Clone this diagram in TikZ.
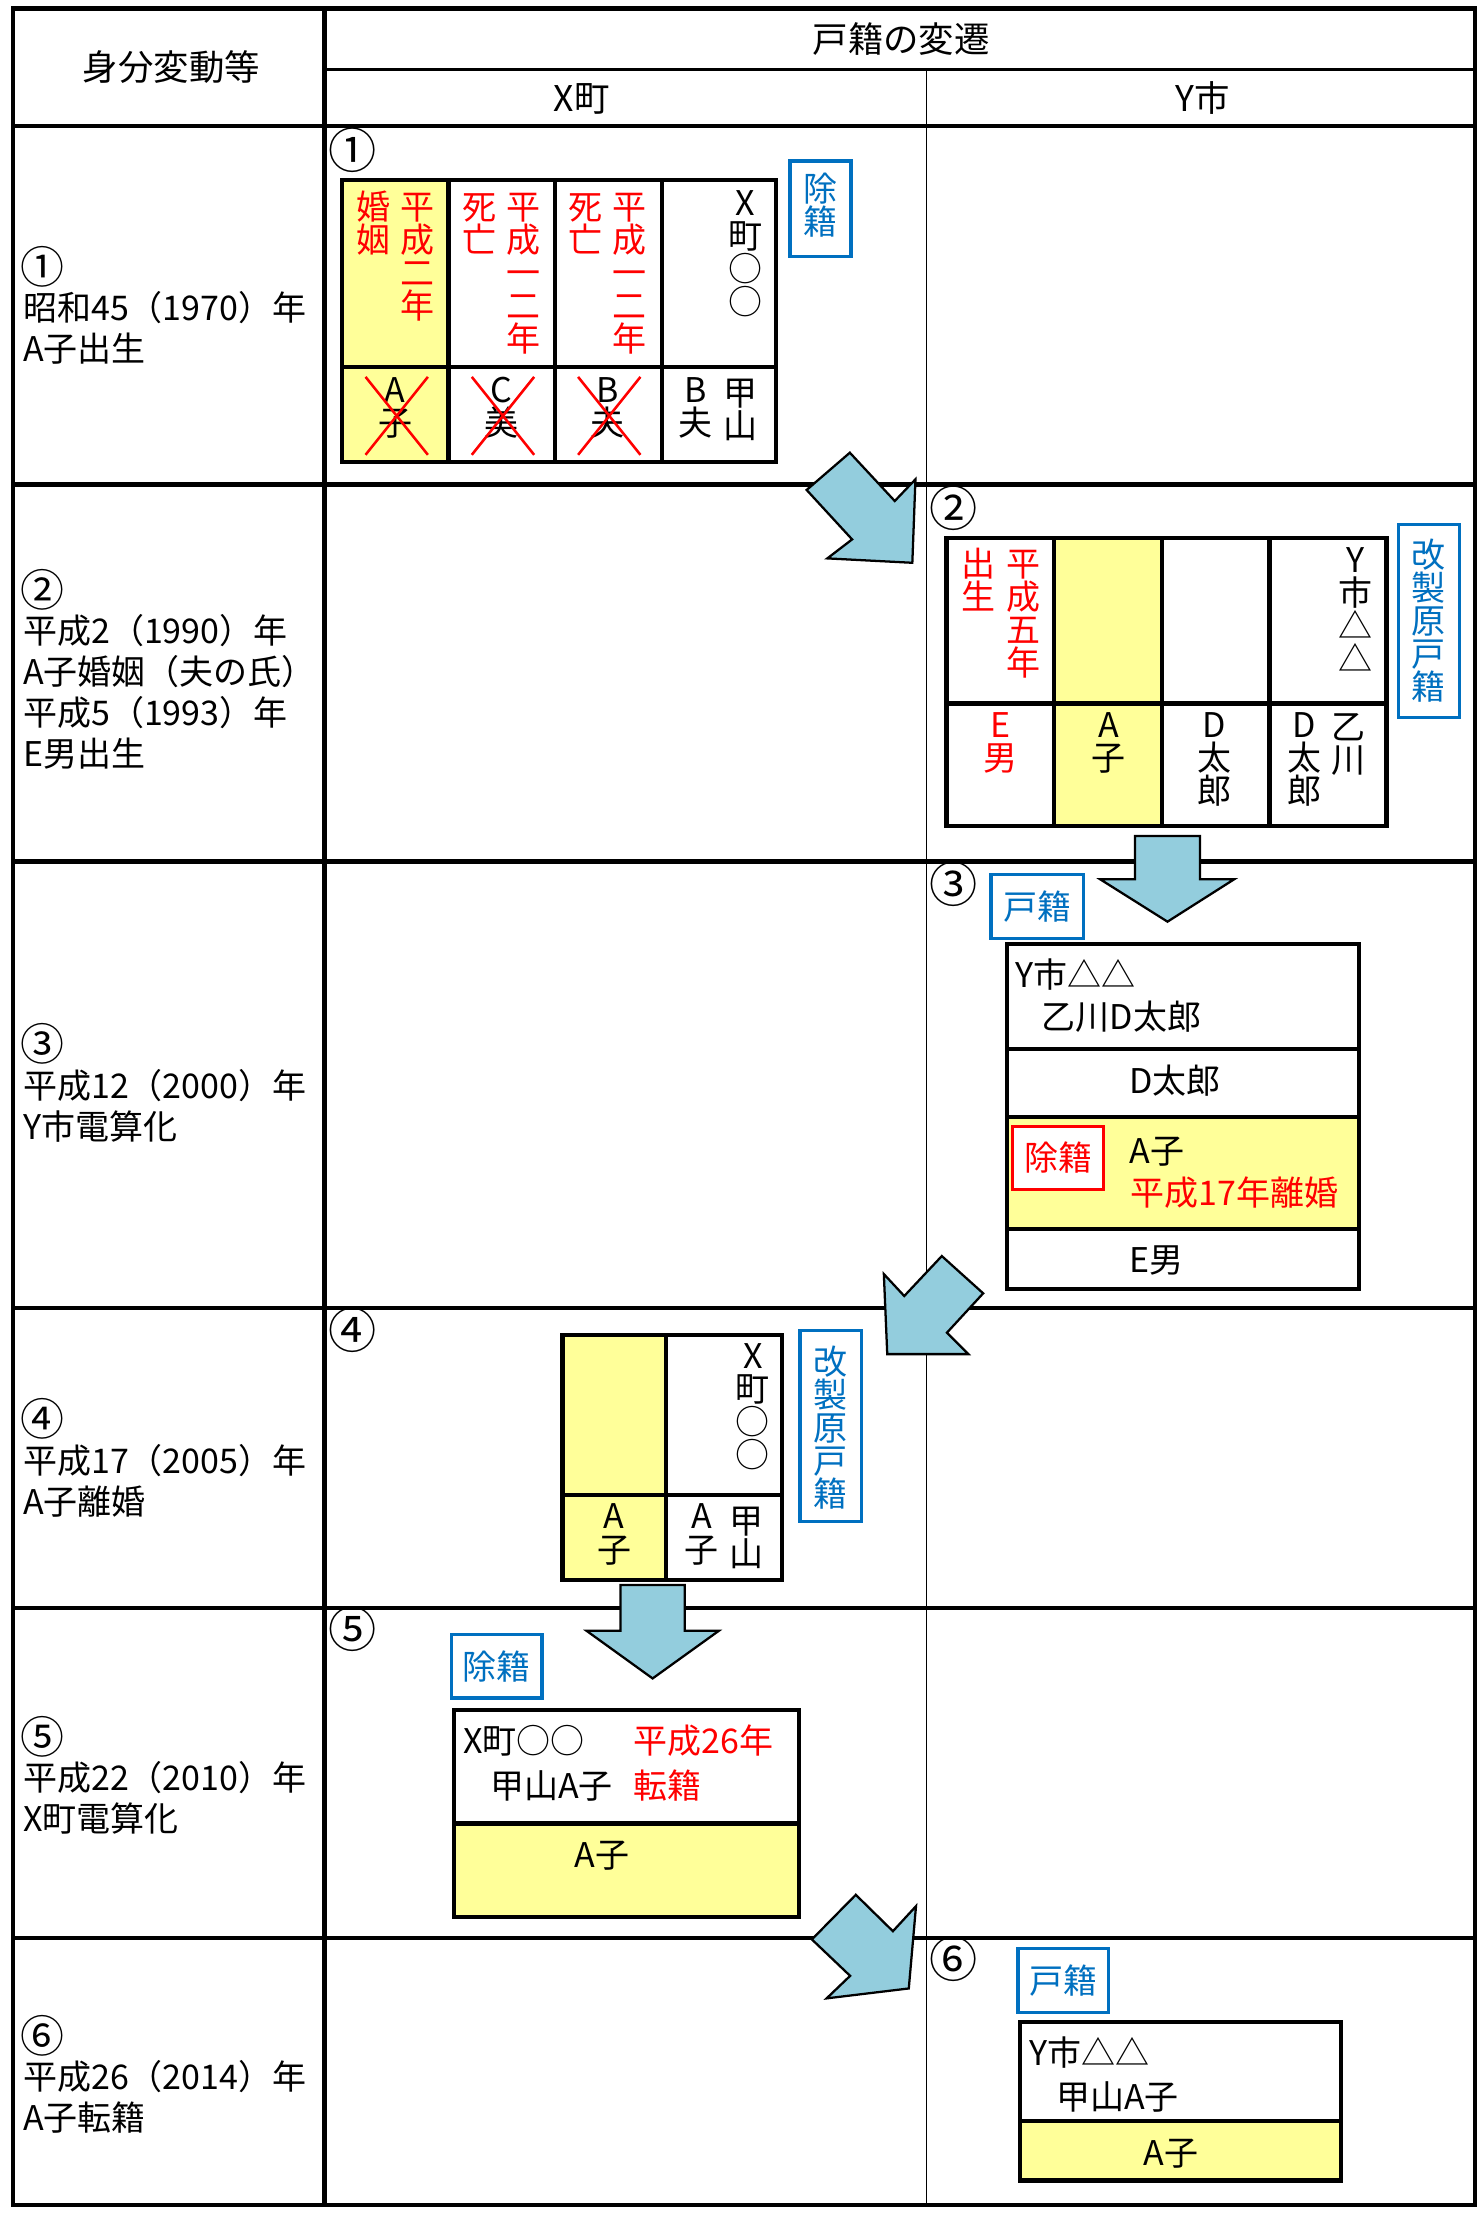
\documentclass[tikz,border=0pt]{standalone}
\usepackage{fontspec}
\setmainfont{Noto Sans CJK JP}
\definecolor{kyel}{RGB}{255,255,153}
\definecolor{kblu}{RGB}{0,112,192}
\definecolor{karr}{RGB}{147,205,221}
\definecolor{kred}{RGB}{255,0,0}
\tikzset{
  tline/.style={line width=1.5pt},
  hline/.style={line width=1.2pt},
  thinline/.style={line width=0.45pt},
  boxline/.style={line width=1.5pt},
  bluebox/.style={draw=kblu, line width=1.2pt, fill=white, inner sep=0pt},
  redbox/.style={draw=kred, line width=1.2pt, fill=white, inner sep=0pt},
  tx/.style={inner sep=0pt, text height=10.56pt, text depth=1.44pt, font=\fontsize{12pt}{14pt}\selectfont},
  hd/.style={inner sep=0pt, text height=11pt, text depth=1.5pt, font=\fontsize{12.5pt}{15pt}\selectfont},
  clab/.style={inner sep=0pt, text height=14.96pt, text depth=2.04pt, font=\fontsize{17pt}{19pt}\selectfont},
  lclab/.style={inner sep=0pt, anchor=west, text height=13.64pt, text depth=1.86pt, font=\fontsize{15.5pt}{17pt}\selectfont},
  blockarrow/.style={draw=black, line width=0.8pt, fill=karr, line join=miter},
  crossline/.style={draw=kred, line width=0.9pt},
}
\newcommand\vcol[5][]{\foreach \kch [count=\i] in {#5}{\node[tx,#1] (#2-\i) at (#3,{#4+(\i-1)*23.3}) {\kch};}}
% left column: name, y of circled number, circled number, lines
\newcommand\lcol[4]{\node[lclab] (#1-0) at (14,#2) {#3};
  \foreach \kln [count=\i] in {#4}{\node[tx,anchor=west] (#1-\i) at (16,{#2+\i*29}) {\kln};}}
\begin{document}
\begin{tikzpicture}[x=0.5pt,y=-0.5pt]
\useasboundingbox[fill=white] (0,0) rectangle (1046,1562.6);
% yellow areas
\fill[kyel] (241.5,127) rectangle (316.5,326);
\fill[kyel] (744,379.5) rectangle (820,583);
\fill[kyel] (710.5,788.5) rectangle (959,867.5);
\fill[kyel] (397,942) rectangle (470,1115);
\fill[kyel] (320.5,1287) rectangle (564,1353);
\fill[kyel] (720,1497) rectangle (946.5,1539);
% table
\draw[tline] (9,6) rectangle (1041,1556);
\draw[tline] (229,6) -- (229,1556);
\draw[hline] (229,49) -- (1041,49);
\draw[thinline] (654,49) -- (654,1556);
\foreach \yy in {89,342,608,923,1135,1368} \draw[tline] (9,\yy) -- (1041,\yy);
% headers
\node[hd] (h1) at (121,47.5) {身分変動等};
\node[hd] (h2) at (636,27.5) {戸籍の変遷};
\node[hd] (h3) at (410.5,69) {X町};
\node[hd] (h4) at (849,69) {Y市};
% left column
\lcol{r1}{188}{①}{昭和45（1970）年,A子出生}
\lcol{r2}{416}{②}{平成2（1990）年,A子婚姻（夫の氏）,平成5（1993）年,E男出生}
\lcol{r3}{737}{③}{平成12（2000）年,Y市電算化}
\lcol{r4}{1001.5}{④}{平成17（2005）年,A子離婚}
\lcol{r5}{1225.5}{⑤}{平成22（2010）年,X町電算化}
\lcol{r6}{1436.5}{⑥}{平成26（2014）年,A子転籍}
% ---- row 1
\node[clab] (c1) at (249,106) {①};
\draw[boxline] (241.5,127) rectangle (547.5,326);
\draw[boxline] (241.5,259) -- (547.5,259);
\foreach \xx in {316.5,391.5,467} \draw[boxline] (\xx,127) -- (\xx,326);
\vcol[text=kred]{b1a}{294.6}{146}{平,成,二,年}
\vcol[text=kred]{b1b}{263.4}{146}{婚,姻}
\vcol[text=kred]{b1c}{369.5}{146}{平,成,一,二,年}
\vcol[text=kred]{b1d}{338.3}{146}{死,亡}
\vcol[text=kred]{b1e}{444.5}{146}{平,成,一,二,年}
\vcol[text=kred]{b1f}{413.3}{146}{死,亡}
\vcol{b1g}{526}{143}{X,町,○,○}
\vcol{b1h}{279}{275}{A,子}
\vcol{b1i}{354}{275}{C,美}
\vcol{b1j}{429}{275}{B,夫}
\vcol{b1k}{522.7}{277}{甲,山}
\vcol{b1l}{491}{275}{B,夫}
\foreach \xx in {258,333,408} {\draw[crossline] (\xx,266) -- ({\xx+44},321); \draw[crossline] ({\xx+44},266) -- (\xx,321);}
\node[bluebox, minimum width=21.5pt, minimum height=33.75pt] (jo1) at (579,147.25) {};
\vcol[text=kblu]{jo1t}{579}{133}{除,籍}
% ---- row 2
\node[clab] (c2) at (673,359) {②};
\draw[boxline] (668,379.5) rectangle (978.5,583);
\draw[boxline] (668,496.5) -- (978.5,496.5);
\foreach \xx in {744,820,896} \draw[boxline] (\xx,379.5) -- (\xx,583);
\vcol[text=kred]{b2a}{722.6}{397.6}{平,成,五,年}
\vcol[text=kred]{b2b}{690.6}{397.6}{出,生}
\vcol{b2c}{956.4}{394.6}{Y,市,△,△}
\vcol[text=kred]{b2d}{706}{511.7}{E,男}
\vcol{b2e}{782.3}{511.7}{A,子}
\vcol{b2f}{857}{511.7}{D,太,郎}
\vcol{b2g}{951.8}{512.7}{乙,川}
\vcol{b2h}{920.7}{511.7}{D,太,郎}
\node[bluebox, minimum width=21.5pt, minimum height=68.25pt] (kai1) at (1008.5,438.25) {};
\vcol[text=kblu]{kai1t}{1008.5}{391.5}{改,製,原,戸,籍}
% ---- row 3
\node[clab] (c3) at (673,624) {③};
\node[bluebox, tx, text=kblu, minimum width=32.5pt, minimum height=22.75pt] (ko1) at (732,639.75) {戸籍};
\draw[boxline] (710.5,666) rectangle (959,910);
\foreach \yy in {740.5,788.5,867.5} \draw[boxline] (710.5,\yy) -- (959,\yy);
\node[tx, anchor=west] (t3a) at (716,687.6) {Y市△△};
\node[tx, anchor=west] (t3b) at (735,717.6) {乙川D太郎};
\node[tx] (t3c) at (829.4,762.3) {D太郎};
\node[redbox, tx, text=kred, minimum width=32.25pt, minimum height=22.25pt] (jo2) at (746.75,817.25) {除籍};
\node[tx, anchor=west] (t3d) at (797,811.7) {A子};
\node[tx, anchor=west, text=kred] (t3e) at (797.5,841.7) {平成17年離婚};
\node[tx] (t3f) at (816,889.3) {E男};
% ---- row 4
\node[clab] (c4) at (249,939) {④};
\draw[boxline] (397,942) rectangle (552,1115);
\draw[boxline] (397,1055) -- (552,1055);
\draw[boxline] (470,942) -- (470,1115);
\vcol{b4a}{531.4}{957}{X,町,○,○}
\vcol{b4b}{433.5}{1070}{A,子}
\vcol{b4c}{526.8}{1073}{甲,山}
\vcol{b4d}{495.3}{1070}{A,子}
\node[bluebox, minimum width=21.75pt, minimum height=67.5pt] (kai2) at (586.25,1006.5) {};
\vcol[text=kblu]{kai2t}{586.25}{961}{改,製,原,戸,籍}
% ---- row 5
\node[clab] (c5) at (249,1150) {⑤};
\node[bluebox, tx, text=kblu, minimum width=32pt, minimum height=22.5pt] (jo3) at (350.5,1176) {除籍};
\draw[boxline] (320.5,1207) rectangle (564,1353);
\draw[boxline] (320.5,1287) -- (564,1287);
\node[tx, anchor=west] (t5a) at (326.4,1228.7) {X町○○};
\node[tx, anchor=west, text=kred] (t5b) at (446.8,1228.7) {平成26年};
\node[tx, anchor=west] (t5c) at (345.5,1260) {甲山A子};
\node[tx, anchor=west, text=kred] (t5d) at (447,1260) {転籍};
\node[tx] (t5e) at (425,1309) {A子};
% ---- row 6
\node[clab] (c6) at (673,1383) {⑥};
\node[bluebox, tx, text=kblu, minimum width=32pt, minimum height=22.75pt] (ko2) at (750.5,1397.75) {戸籍};
\draw[boxline] (720,1427) rectangle (946.5,1539);
\draw[boxline] (720,1497) -- (946.5,1497);
\node[tx, anchor=west] (t6a) at (726.3,1448.7) {Y市△△};
\node[tx, anchor=west] (t6b) at (745,1480) {甲山A子};
\node[tx] (t6c) at (826.3,1519.3) {A子};
% ---- arrows
\draw[blockarrow] (599.8,319.5) -- (631.5,353.6) -- (646.1,338.3) -- (643.9,397.2) -- (583.9,394.1) -- (601.4,380.7) -- (569.3,345.8) -- cycle;
\draw[blockarrow] (801,590) -- (847,590) -- (847,620.6) -- (871,620.6) -- (824,650.5) -- (776.5,620.6) -- (801,620.6) -- cycle;
\draw[blockarrow] (664.7,886.5) -- (693.9,912.8) -- (668.3,940.6) -- (683.4,955.7) -- (626.2,955.7) -- (623.8,899.2) -- (638.2,914.7) -- cycle;
\draw[blockarrow] (438,1118.7) -- (483.2,1118.7) -- (483.2,1151) -- (507.3,1151) -- (460.6,1184.6) -- (414,1151) -- (438,1151) -- cycle;
\draw[blockarrow] (604,1337.3) -- (630.2,1363) -- (646.5,1345.3) -- (641.4,1403.4) -- (583.4,1410.4) -- (600,1394.5) -- (573,1368.8) -- cycle;
\end{tikzpicture}
\end{document}
